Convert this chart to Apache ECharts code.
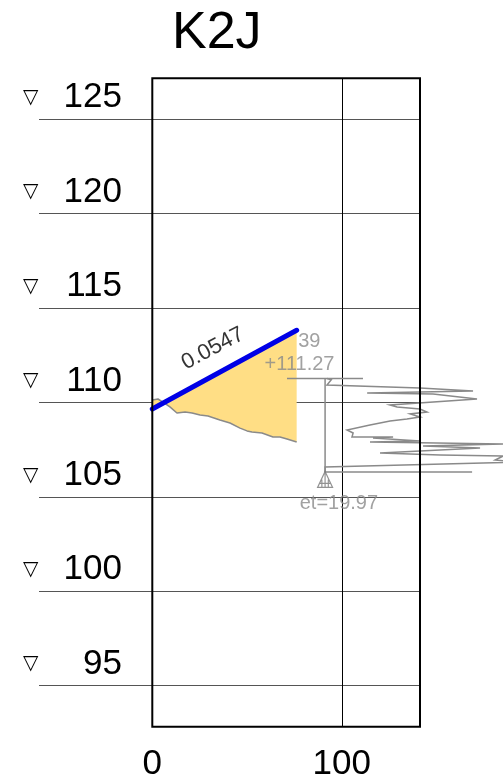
<!DOCTYPE html>
<html>
<head>
<meta charset="utf-8">
<script src="https://cdn.jsdelivr.net/npm/echarts@6/dist/echarts.min.js"></script>
<style>
    html, body { margin: 0; padding: 0; background: #fff; }
    #main { width: 503px; height: 782px; }
</style>
</head>
<body>
<div id="main"></div>
<script>
var titleText = 'K2J';

// slope line (blue) and its label
var slopeX = [0, 76.2];
var slopeY = [109.65, 113.82];
var slopeText = '0.0547';

// ground profile under the slope
var groundX = [0.1, 3.0, 5.6, 9.3, 13.0, 17.3, 21.0, 25.2, 29.4, 35.7, 41.0, 46.3, 50.0, 52.6, 57.9, 63.7, 67.4, 71.1, 76.2];
var groundY = [110.13, 110.18, 110.02, 109.76, 109.44, 109.49, 109.44, 109.33, 109.28, 109.07, 108.91, 108.64, 108.49, 108.43, 108.38, 108.17, 108.17, 108.06, 107.90];

// gray log on the right
var profileX = [92.2, 94.5, 92.2, 141.3, 169.3, 113.4, 148.2, 171.4, 125.5, 129.2, 141.3, 145.0, 136.1, 141.3, 134.4, 125.5, 114.9, 102.8, 106.0, 105.4, 127.1, 116.5, 141.3, 114.9, 185.2, 142.9, 173.0, 120.2, 151.9, 185.2, 181.0, 194.0, 91.2, 91.2, 168.8];
var profileY = [111.27, 111.20, 110.92, 110.76, 110.60, 110.50, 110.44, 110.18, 109.86, 109.76, 109.65, 109.49, 109.39, 109.23, 109.12, 109.02, 108.80, 108.54, 108.38, 108.17, 108.17, 108.12, 107.96, 107.90, 107.80, 107.69, 107.59, 107.32, 107.22, 107.16, 106.95, 106.84, 106.58, 106.32, 106.32];

var stakeX = 91.2;
var stakeTop = 111.27;
var stakeBottom = 106.32;
var capX = [71.1, 111.2];
var stakeText = ['39', '+111.27'];
var baseText = 'et=19.97';
var baseY = 105.92;

var xTicks = [0, 100];

function pairs(xs, ys) {
    var out = [];
    for (var i = 0; i < xs.length; i++) {
        out.push([xs[i], ys[i]]);
    }
    return out;
}

var fillPts = [[slopeX[0], slopeY[0]], [slopeX[1], slopeY[1]]];
for (var i = groundX.length - 1; i >= 0; i--) {
    fillPts.push([groundX[i], groundY[i]]);
}

// polylines that run past the box edge
var grayLines = [
    pairs(profileX, profileY),
    [[stakeX, stakeTop], [stakeX, stakeBottom]],
    [[capX[0], stakeTop], [capX[1], stakeTop]]
];

var gray = '#8a8a8a';
var font = 'Liberation Sans, Arial, sans-serif';

var myChart = echarts.init(document.getElementById('main'));
var option = {
    animation: false,
    backgroundColor: '#fff',
    title: {
        text: titleText,
        left: 167,
        top: 3,
        textStyle: { fontSize: 52, fontWeight: 'normal', color: '#000', fontFamily: font }
    },
    grid: [
        { left: 39, right: 83, top: 24.55, height: 755.6 },
        { left: 152.3, right: 83, top: 78.3, bottom: 55.3, show: true, borderColor: '#000', borderWidth: 2, backgroundColor: 'transparent', z: 5 }
    ],
    xAxis: [
        { gridIndex: 0, type: 'value', min: 0, max: 1, show: false },
        {
            gridIndex: 1, type: 'value', min: 0, max: 141.3, interval: 100,
            axisLine: { show: false },
            axisTick: { show: false },
            splitLine: { show: true, lineStyle: { color: '#000', width: 1 } },
            axisLabel: {
                showMaxLabel: false, fontSize: 35, color: '#000', fontFamily: font, margin: 20,
                formatter: function (v) { return xTicks.indexOf(v) >= 0 ? String(v) : ''; }
            }
        }
    ],
    yAxis: [
        {
            gridIndex: 0, type: 'value', min: 90, max: 130, interval: 5,
            axisLine: { show: false },
            axisTick: { show: false },
            splitLine: { show: true, showMinLine: false, showMaxLine: false, lineStyle: { color: '#555', width: 1 } },
            axisLabel: {
                showMinLabel: false, showMaxLabel: false,
                align: 'left', margin: 16, verticalAlign: 'bottom', padding: [0, 0, 4, 0],
                formatter: function (v) { return '{t|▽}{n|' + v + '}'; },
                rich: {
                    t: { fontSize: 20, color: '#000', fontFamily: 'DejaVu Sans', width: 40, align: 'left', padding: [0, 0, 0, 0] },
                    n: { fontSize: 35, color: '#000', fontFamily: font, width: 59, align: 'right' }
                }
            }
        },
        { gridIndex: 1, type: 'value', min: 92.83, max: 127.16, show: false }
    ],
    series: [
        {
            type: 'custom',
            xAxisIndex: 1, yAxisIndex: 1,
            data: [0],
            z: 2,
            renderItem: function (params, api) {
                var pts = fillPts.map(function (p) { return api.coord(p); });
                return { type: 'polygon', shape: { points: pts }, style: { fill: '#FFDE85' } };
            }
        },
        {
            type: 'line', xAxisIndex: 1, yAxisIndex: 1, z: 3,
            data: pairs(groundX, groundY), symbol: 'none',
            lineStyle: { color: gray, width: 1.5 }
        },
        {
            type: 'line', xAxisIndex: 1, yAxisIndex: 1, z: 4,
            data: pairs(slopeX, slopeY), symbol: 'none',
            lineStyle: { color: '#0000E6', width: 5, cap: 'round' }
        },
        {
            type: 'custom',
            xAxisIndex: 1, yAxisIndex: 1,
            data: [0, 1, 2],
            z: 3,
            clip: false,
            renderItem: function (params, api) {
                var pts = grayLines[params.dataIndex].map(function (p) { return api.coord(p); });
                return { type: 'polyline', shape: { points: pts }, style: { stroke: gray, lineWidth: 1.5, fill: null } };
            }
        },
        {
            type: 'scatter', xAxisIndex: 1, yAxisIndex: 1, z: 6, clip: false,
            symbolSize: 0,
            data: [
                { value: [32, 112.85], label: { formatter: slopeText, rotate: 28, color: '#000', fontSize: 22 } },
                { value: [77.0, 113.22], label: { formatter: stakeText[0], align: 'left' } },
                { value: [77.7, 112.0], label: { formatter: stakeText[1] } },
                { value: [98.5, 104.65], label: { formatter: baseText } }
            ],
            label: {
                show: true, position: 'inside', align: 'center', verticalAlign: 'middle',
                fontSize: 20, color: gray, fontFamily: font
            }
        },
        {
            type: 'scatter', xAxisIndex: 1, yAxisIndex: 1, z: 6, clip: false,
            data: [[stakeX, baseY]],
            symbol: 'path://M7,0 L14,16 L0,16 Z M7,0 L7,16 M4,8 L4,16 M10,8 L10,16 M2,12 L12,12',
            symbolSize: [15, 16],
            itemStyle: { color: 'transparent', borderColor: '#777', borderWidth: 1.2 }
        }
    ]
};
myChart.setOption(option);
</script>
</body>
</html>
